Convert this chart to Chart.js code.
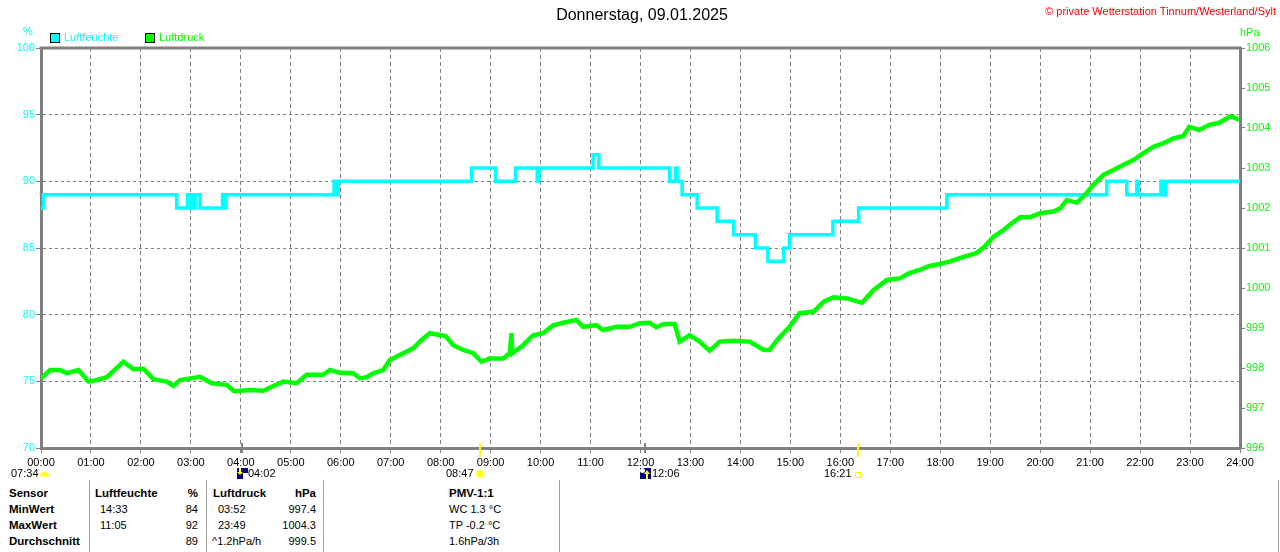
<!DOCTYPE html>
<html><head><meta charset="utf-8">
<script src="https://cdn.jsdelivr.net/npm/chart.js@4.4.1/dist/chart.umd.min.js"></script>
<style>
body{margin:0;background:#fff;width:1280px;height:552px;overflow:hidden;position:relative;font-family:"Liberation Sans",Arial,sans-serif;color:#000;}
.t{position:absolute;white-space:nowrap;font-size:11px;line-height:13px;}
.b{font-weight:bold;font-size:11.5px;}
.r{text-align:right;}
.sep{position:absolute;top:480px;width:1px;height:72px;background:#a0a0a0;}
.box{position:absolute;width:10px;height:10px;border:1px solid #000;box-sizing:border-box;top:33px;}
</style></head><body>
<canvas id="c" width="1280" height="480" style="position:absolute;left:0;top:0;width:1280px;height:480px"></canvas>

<div class="t" style="left:642px;top:6px;font-size:16px;line-height:18px;transform:translateX(-50%)">Donnerstag, 09.01.2025</div>
<div class="t" style="right:4px;top:5px;color:#ff0000">© private Wetterstation Tinnum/Westerland/Sylt</div>

<div class="t" style="left:23px;top:25px;color:#00ffff">%</div>
<div class="t" style="left:1240px;top:26px;color:#00ff00">hPa</div>

<div class="box" style="left:50px;background:#00ffff"></div>
<div class="t" style="left:64px;top:31px;color:#00ffff">Luftfeuchte</div>
<div class="box" style="left:145px;background:#00ff00"></div>
<div class="t" style="left:159px;top:31px;color:#00ff00">Luftdruck</div>

<div class="t" style="left:11px;top:467px">07:34</div>
<div class="t" style="left:248px;top:467px">04:02</div>
<div class="t" style="left:446px;top:467px">08:47</div>
<div class="t" style="left:652px;top:467px">12:06</div>
<div class="t" style="left:824px;top:467px">16:21</div>

<div class="sep" style="left:89px"></div>
<div class="sep" style="left:206px"></div>
<div class="sep" style="left:323px"></div>
<div class="sep" style="left:559px"></div>
<div class="sep" style="left:1278px"></div>

<div class="t b" style="left:9px;top:487px">Sensor</div>
<div class="t b" style="left:9px;top:503px">MinWert</div>
<div class="t b" style="left:9px;top:519px">MaxWert</div>
<div class="t b" style="left:9px;top:535px">Durchschnitt</div>

<div class="t b" style="left:95px;top:487px">Luftfeuchte</div>
<div class="t b r" style="right:1082px;top:487px">%</div>
<div class="t" style="left:100px;top:503px">14:33</div>
<div class="t" style="left:100px;top:519px">11:05</div>
<div class="t r" style="right:1082px;top:503px">84</div>
<div class="t r" style="right:1082px;top:519px">92</div>
<div class="t r" style="right:1082px;top:535px">89</div>

<div class="t b" style="left:213px;top:487px">Luftdruck</div>
<div class="t b r" style="right:964px;top:487px">hPa</div>
<div class="t" style="left:218px;top:503px">03:52</div>
<div class="t" style="left:218px;top:519px">23:49</div>
<div class="t" style="left:212px;top:535px">^1.2hPa/h</div>
<div class="t r" style="right:964px;top:503px">997.4</div>
<div class="t r" style="right:964px;top:519px">1004.3</div>
<div class="t r" style="right:964px;top:535px">999.5</div>

<div class="t b" style="left:449px;top:487px">PMV-1:1</div>
<div class="t" style="left:449px;top:503px">WC 1.3 °C</div>
<div class="t" style="left:449px;top:519px">TP -0.2 °C</div>
<div class="t" style="left:449px;top:535px">1.6hPa/3h</div>

<script>
// ---- data ----
const hourLabels = ['00:00','01:00','02:00','03:00','04:00','05:00','06:00','07:00','08:00','09:00','10:00','11:00','12:00','13:00','14:00','15:00','16:00','17:00','18:00','19:00','20:00','21:00','22:00','23:00','24:00'];
const humTimes = ['00:00','00:03','02:43','02:56','03:01','03:05','03:11','03:38','03:40','03:42','05:52','05:54','05:57','08:37','09:06','09:30','09:56','09:58','11:03','11:10','12:35','12:42','12:44','12:50','13:08','13:32','13:52','14:18','14:33','14:52','14:59','15:51','16:22','18:08','21:20','21:44','21:56','21:58','22:25','22:28','22:31','24:00'];
const humValues = [88,89,88,89,88,89,88,89,88,89,90,89,90,91,90,91,90,91,92,91,90,91,90,89,88,87,86,85,84,85,86,87,88,89,90,89,90,89,90,89,90,90];
const presTimes = ['00:00','00:11','00:23','00:31','00:45','00:57','01:07','01:19','01:39','01:51','02:03','02:15','02:31','02:39','02:47','03:11','03:25','03:43','03:52','04:11','04:27','04:39','04:51','05:07','05:19','05:39','05:47','05:59','06:15','06:23','06:31','06:39','06:51','06:59','07:15','07:27','07:37','07:47','08:06','08:15','08:27','08:39','08:49','08:59','09:15','09:23','09:25','09:26','09:39','09:51','10:03','10:15','10:27','10:43','10:51','11:07','11:15','11:31','11:47','11:59','12:11','12:19','12:28','12:41','12:47','12:59','13:11','13:23','13:35','13:52','14:11','14:28','14:35','14:44','14:59','15:11','15:28','15:40','15:52','16:08','16:26','16:40','16:56','17:11','17:23','17:35','17:47','17:59','18:11','18:28','18:43','18:53','19:04','19:16','19:26','19:36','19:48','20:00','20:16','20:24','20:32','20:44','20:56','21:04','21:16','21:28','21:40','21:52','22:04','22:16','22:28','22:40','22:52','22:59','23:11','23:23','23:35','23:49','23:59'];
const presValues = [997.74,997.95,997.95,997.87,997.95,997.66,997.70,997.77,998.16,997.97,997.98,997.72,997.66,997.55,997.70,997.78,997.62,997.58,997.42,997.45,997.43,997.55,997.66,997.62,997.83,997.83,997.95,997.88,997.87,997.74,997.77,997.87,997.95,998.20,998.37,998.49,998.70,998.87,998.80,998.57,998.45,998.37,998.16,998.24,998.24,998.37,998.87,998.37,998.57,998.82,998.87,999.07,999.13,999.20,999.03,999.07,998.95,999.03,999.03,999.12,999.13,999.02,999.10,999.10,998.66,998.82,998.66,998.43,998.66,998.68,998.66,998.45,998.45,998.70,999.03,999.37,999.41,999.66,999.77,999.74,999.63,999.95,1000.20,1000.24,1000.37,1000.45,1000.55,1000.60,1000.66,1000.78,1000.87,1001.03,1001.28,1001.45,1001.62,1001.77,1001.77,1001.87,1001.91,1001.99,1002.20,1002.13,1002.38,1002.58,1002.83,1002.95,1003.08,1003.20,1003.37,1003.53,1003.62,1003.74,1003.80,1004.03,1003.95,1004.08,1004.13,1004.30,1004.20];
const eventTimes = ['04:02','08:47','12:06','16:21'];
const eventKinds = ['moonset','sunrise','moonrise','sunset'];

function toH(s){const p=s.split(':').map(Number);return p[0]+p[1]/60;}
const humData = humTimes.map((t,i)=>({x:toH(t),y:humValues[i]}));
const presData = presTimes.map((t,i)=>({x:toH(t),y:presValues[i]}));

const GRID='#808080';
const FONT={family:'"Liberation Sans", Arial, sans-serif',size:11};

const decor = {
  id:'decor',
  beforeDatasetsDraw(chart){
    const {ctx,chartArea:a}=chart;
    ctx.save();
    ctx.strokeStyle=GRID;ctx.lineWidth=3;
    ctx.beginPath();ctx.moveTo(a.left-1.5,a.top);ctx.lineTo(a.right+1.5,a.top);ctx.stroke();
    ctx.restore();
  },
  afterDraw(chart){
    const {ctx}=chart; const xs=chart.scales.x;
    ctx.save();
    const x0=xs.getPixelForValue(0)+3.5;
    ctx.fillStyle='#ffff00';
    ctx.beginPath();ctx.arc(x0,476.5,4.5,Math.PI,0);ctx.closePath();ctx.fill();
    eventTimes.forEach((t,i)=>{
      const px=Math.round(xs.getPixelForValue(toH(t)));
      const k=eventKinds[i];
      const sun = k==='sunrise'||k==='sunset';
      ctx.fillStyle = sun?'#ffff00':GRID;
      ctx.fillRect(px-1, 443, 2, sun?14:10);
      if(k==='sunrise'){
        ctx.strokeStyle='#ffff80';ctx.lineWidth=1;
        for(let j=0;j<8;j++){const an=j*Math.PI/4;ctx.beginPath();ctx.moveTo(px+Math.cos(an)*4,474+Math.sin(an)*4);ctx.lineTo(px+Math.cos(an)*6,474+Math.sin(an)*6);ctx.stroke();}
        ctx.fillStyle='#ffff00';ctx.beginPath();ctx.arc(px,474,3.5,0,2*Math.PI);ctx.fill();
      } else if(k==='sunset'){
        ctx.strokeStyle='#ffff00';ctx.lineWidth=1;ctx.strokeRect(px-2.5,472.5,5,5);
      } else if(k==='moonset'){
        const l=px-5;
        ctx.fillStyle='#000080';ctx.fillRect(l,468,11,11);
        ctx.fillStyle='#ffffff';ctx.fillRect(l+6,473,5,6);
        ctx.fillStyle='#ffff00';ctx.fillRect(l+2,468,2,5);
        ctx.beginPath();ctx.moveTo(l,472);ctx.lineTo(l+6,472);ctx.lineTo(l+3,475);ctx.closePath();ctx.fill();
      } else {
        const l=px-5;
        ctx.fillStyle='#000080';ctx.fillRect(l,468,11,11);
        ctx.fillStyle='#ffffff';ctx.beginPath();ctx.arc(l+2.5,470.5,2.5,0,2*Math.PI);ctx.fill();
        ctx.fillStyle='#ffff00';ctx.fillRect(l+6,473,2,6);
        ctx.beginPath();ctx.moveTo(l+4,474);ctx.lineTo(l+10,474);ctx.lineTo(l+7,470);ctx.closePath();ctx.fill();
      }
    });
    ctx.restore();
  }
};

new Chart(document.getElementById('c'),{
  type:'line',
  data:{datasets:[
    {label:'Luftdruck',data:presData,yAxisID:'y2',borderColor:'#00ff00',backgroundColor:'#00ff00',borderWidth:4.5,pointRadius:0,tension:0,order:0},
    {label:'Luftfeuchte',data:humData,yAxisID:'y',borderColor:'#00ffff',backgroundColor:'#00ffff',borderWidth:3.5,pointRadius:0,stepped:true,order:1}
  ]},
  options:{
    responsive:false,animation:false,maintainAspectRatio:false,
    layout:{padding:{top:48,left:0,right:0,bottom:0}},
    plugins:{legend:{display:false},tooltip:{enabled:false},title:{display:false}},
    events:[],
    scales:{
      x:{type:'linear',position:'bottom',min:0,max:24,
        afterBuildTicks(s){s.ticks=hourLabels.map(l=>({value:toH(l)}));},
        afterFit(s){s.height=32;},
        ticks:{autoSkip:false,maxRotation:0,color:'#000',font:FONT,padding:3,callback:(v,i)=>hourLabels[i]},
        grid:{color:GRID,lineWidth:1,tickLength:5,tickColor:GRID,tickBorderDash:[]},
        border:{display:true,color:GRID,width:3,dash:[4,3]}
      },
      y:{type:'linear',position:'left',min:70,max:100,
        afterFit(s){s.width=41;},
        ticks:{stepSize:5,color:'#00ffff',font:FONT,padding:1,callback:v=>String(v)},
        grid:{color:GRID,lineWidth:1,tickLength:5,tickColor:GRID,tickBorderDash:[]},
        border:{display:true,color:GRID,width:3,dash:[3,3]}
      },
      y2:{type:'linear',position:'right',min:996,max:1006,
        afterFit(s){s.width=40;},
        ticks:{stepSize:1,color:'#00ff00',font:FONT,padding:1,callback:v=>String(v)},
        grid:{drawOnChartArea:false,color:GRID,tickLength:5,tickColor:GRID},
        border:{display:true,color:GRID,width:3}
      }
    }
  },
  plugins:[decor]
});
</script>
</body></html>
